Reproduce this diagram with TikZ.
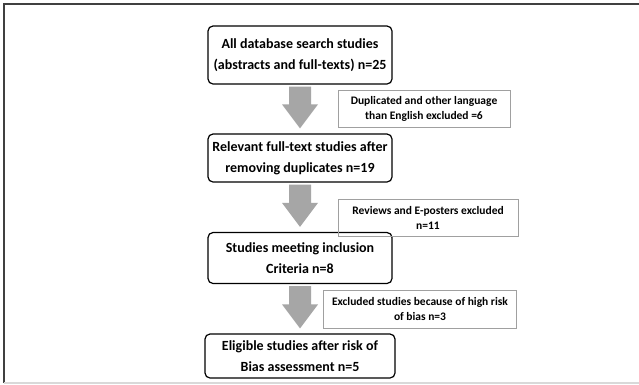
\documentclass[tikz,border=0pt]{standalone}
\usepackage{fontspec}
\setmainfont{Carlito}
\usetikzlibrary{calc}
\definecolor{arrowgray}{HTML}{A6A6A6}
\definecolor{sidegray}{HTML}{A0A0A0}
\definecolor{framedark}{HTML}{404040}
\definecolor{framelight}{HTML}{D9D9D9}
\tikzset{
  mainbox/.style={draw=black, line width=1.2pt, rounded corners=5pt, align=center,
    font=\bfseries\fontsize{14}{21}\selectfont, inner sep=0pt},
  sidebox/.style={draw=sidegray, line width=0.8pt, align=center,
    font=\bfseries\fontsize{11.5}{15}\selectfont, inner sep=0pt},
  blockarrow/.style={fill=arrowgray, draw=none},
}
\newcommand{\blockarr}[2]{%
  \path let \p1=(#1.south), \p2=(#2.north) in
    [blockarrow] (\x1-11pt,\y1-2pt) -- (\x1+11pt,\y1-2pt) -- (\x1+11pt,\y2+29pt)
    -- (\x1+18pt,\y2+29pt) -- (\x1,\y2+5pt) -- (\x1-18pt,\y2+29pt)
    -- (\x1-11pt,\y2+29pt) -- cycle;}
\begin{document}
\begin{tikzpicture}[x=1pt,y=-1pt]
\useasboundingbox (0,0) rectangle (639,384);
\fill[white] (0,0) rectangle (639,384);
% frame
\draw[framedark, line width=1.5pt] (4,383) -- (4,4) -- (639,4);
\draw[framelight, line width=1.5pt] (4,383) -- (639,383);
% main boxes
\node[mainbox, minimum width=184pt, minimum height=58pt] (b1) at (300,55)
  {All database search studies\\(abstracts and full-texts) n=25};
\node[mainbox, minimum width=184pt, minimum height=48pt] (b2) at (300,158)
  {Relevant full-text studies after\\removing duplicates n=19};
\node[mainbox, minimum width=184pt, minimum height=51pt] (b3) at (300,258)
  {Studies meeting inclusion\\Criteria n=8};
\node[mainbox, minimum width=190pt, minimum height=44pt] (b4) at (300,356)
  {Eligible studies after risk of\\Bias assessment n=5};
% side boxes
\node[sidebox, minimum width=172pt, minimum height=37pt] (s1) at (424,109)
  {Duplicated and other language\\than English excluded =6};
\node[sidebox, minimum width=180pt, minimum height=37pt] (s2) at (428,218)
  {Reviews and E-posters excluded\\n=11};
\node[sidebox, minimum width=193pt, minimum height=38pt] (s3) at (420,309)
  {Excluded studies because of high risk\\of bias n=3};
% arrows
\blockarr{b1}{b2}
\blockarr{b2}{b3}
\blockarr{b3}{b4}
\end{tikzpicture}
\end{document}
